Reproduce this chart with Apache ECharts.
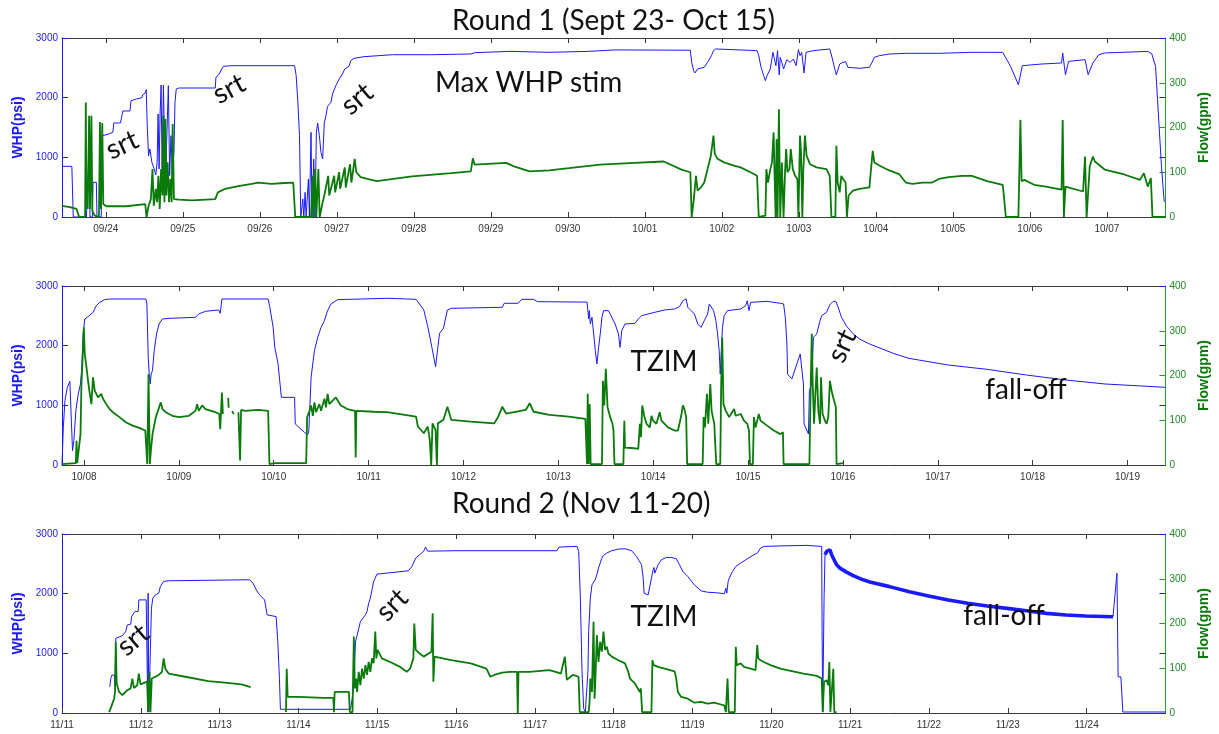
<!DOCTYPE html>
<html>
<head>
<meta charset="utf-8">
<script src="https://cdn.jsdelivr.net/npm/echarts@6/dist/echarts.min.js"></script>
<style>
  html, body { margin: 0; padding: 0; background: #ffffff; }
  #chart { width: 1219px; height: 734px; }
</style>
</head>
<body>
<div id="chart"></div>
<script>
// Time is a day index: Round 1 counts Sept 1 = 1 (so Oct 1 = 31),
// Round 2 counts Nov 1 = 1. WHP in psi, flow in gpm.

// ---- Round 1, first panel (Sept 23 - Oct 7) ----
const whp1 = [[23.431,849],[23.559,849],[23.577,0],[23.748,0],[23.770,693],[23.783,1084],[23.795,0],[23.825,0],[23.834,581],[23.877,581],[23.885,0],[23.941,0],[23.954,1363],[24.027,1386],[24.091,1419],[24.104,1576],[24.19,1576],[24.203,1654],[24.22,1777],[24.314,1777],[24.327,1950],[24.4,1978],[24.469,2000],[24.477,2045],[24.512,2078],[24.525,2134],[24.538,1531],[24.555,1028],[24.572,1140],[24.598,916],[24.628,805],[24.649,704],[24.666,916],[24.679,1726],[24.692,805],[24.705,1743],[24.718,2212],[24.731,805],[24.748,2212],[24.761,1363],[24.778,749],[24.799,1643],[24.812,2201],[24.829,693],[24.846,1363],[24.864,749],[24.885,1084],[24.898,1922],[24.915,2145],[24.949,2162],[25.421,2162],[25.43,2341],[25.464,2380],[25.507,2481],[25.528,2525],[25.636,2536],[26.451,2536],[26.472,2369],[26.494,1922],[26.515,1363],[26.532,0],[26.558,302],[26.571,0],[26.588,413],[26.601,0],[26.631,637],[26.644,0],[26.665,1419],[26.678,0],[26.7,972],[26.717,0],[26.734,1419],[26.751,1576],[26.773,1363],[26.794,1084],[26.816,972],[26.837,1576],[26.858,1698],[26.88,1855],[26.923,1922],[26.944,2062],[26.987,2201],[27.03,2313],[27.073,2397],[27.103,2481],[27.159,2525],[27.18,2620],[27.223,2659],[27.352,2687],[27.722,2720],[28.232,2720],[28.74,2732],[28.79,2754],[29.248,2776],[29.758,2760],[30.266,2776],[30.5,2792],[30.612,2800],[31.59,2795],[31.608,2592],[31.634,2453],[31.651,2414],[31.685,2481],[31.771,2509],[31.814,2592],[31.865,2704],[31.891,2788],[31.921,2816],[32.457,2788],[32.479,2704],[32.509,2509],[32.543,2369],[32.565,2285],[32.586,2369],[32.629,2481],[32.663,2760],[32.685,2788],[32.702,2536],[32.723,2788],[32.745,2380],[32.758,2676],[32.779,2592],[32.801,2481],[32.844,2637],[32.886,2592],[32.929,2648],[32.964,2536],[32.994,2805],[33.015,2704],[33.037,2760],[33.067,2414],[33.093,2760],[33.187,2788],[33.401,2816],[33.436,2648],[33.466,2481],[33.487,2380],[33.53,2564],[33.573,2592],[33.607,2604],[33.637,2509],[33.787,2492],[33.916,2509],[33.95,2592],[33.98,2676],[34.045,2704],[34.174,2732],[34.388,2743],[34.817,2743],[35.246,2760],[35.648,2759],[35.749,2525],[35.851,2217],[35.902,2536],[36.157,2564],[36.411,2581],[36.426,2749],[36.442,2581],[36.462,2385],[36.503,2608],[36.716,2637],[36.757,2385],[36.818,2581],[36.895,2720],[36.971,2749],[37.531,2776],[37.582,2737],[37.632,2525],[37.658,1966],[37.683,1408],[37.709,848],[37.744,262],[37.76,240]];

const flow1 = [[23.431,25],[23.534,22],[23.62,18],[23.645,14],[23.654,0],[23.731,0],[23.74,256],[23.748,33],[23.765,18],[23.783,226],[23.795,18],[23.813,226],[23.825,14],[23.855,3],[23.911,0],[23.924,212],[23.937,18],[23.954,210],[23.967,29],[24.006,24],[24.263,24],[24.512,29],[24.529,0],[24.555,25],[24.585,40],[24.606,107],[24.623,25],[24.649,63],[24.666,33],[24.683,92],[24.7,18],[24.718,107],[24.735,48],[24.748,226],[24.761,33],[24.774,219],[24.786,48],[24.803,122],[24.821,33],[24.838,85],[24.855,33],[24.868,208],[24.885,40],[24.949,39],[25.121,37],[25.421,40],[25.455,55],[25.55,63],[25.721,69],[25.893,74],[25.979,77],[26.151,74],[26.322,76],[26.434,77],[26.46,0],[26.665,0],[26.687,92],[26.7,0],[26.717,107],[26.734,0],[26.76,107],[26.777,0],[26.816,33],[26.837,48],[26.888,92],[26.901,48],[26.966,92],[26.978,55],[27.03,100],[27.043,63],[27.103,111],[27.116,66],[27.172,118],[27.189,77],[27.232,130],[27.253,100],[27.309,89],[27.395,85],[27.519,80],[27.977,91],[28.485,98],[28.74,102],[28.766,131],[28.79,117],[29.198,121],[29.3,113],[29.503,102],[29.758,104],[30.013,109],[30.42,117],[30.864,121],[31.246,124],[31.475,106],[31.591,100],[31.608,0],[31.625,0],[31.634,37],[31.651,40],[31.664,92],[31.685,59],[31.728,66],[31.771,77],[31.814,107],[31.857,137],[31.891,182],[31.908,141],[31.943,130],[32.028,122],[32.157,115],[32.243,111],[32.372,100],[32.457,92],[32.479,0],[32.565,3],[32.578,107],[32.599,77],[32.629,107],[32.651,122],[32.672,189],[32.685,92],[32.698,0],[32.711,174],[32.723,0],[32.741,241],[32.758,0],[32.779,122],[32.801,0],[32.822,107],[32.835,152],[32.852,100],[32.878,107],[32.895,152],[32.921,107],[32.951,92],[32.981,85],[32.994,0],[33.015,182],[33.028,145],[33.045,0],[33.058,107],[33.079,182],[33.1,137],[33.144,118],[33.23,111],[33.358,107],[33.401,92],[33.423,0],[33.474,0],[33.487,159],[33.504,77],[33.53,55],[33.551,92],[33.573,85],[33.607,77],[33.624,0],[33.646,48],[33.702,59],[33.787,63],[33.916,66],[33.937,107],[33.959,148],[33.98,122],[34.002,126],[34.045,115],[34.174,104],[34.302,96],[34.388,77],[34.474,74],[34.603,77],[34.731,77],[34.817,85],[34.946,89],[35.117,92],[35.246,92],[35.444,80],[35.648,72],[35.688,0],[35.851,0],[35.877,217],[35.892,80],[35.927,83],[36.055,72],[36.207,68],[36.411,61],[36.426,217],[36.442,0],[36.462,68],[36.691,57],[36.716,135],[36.737,0],[36.777,113],[36.818,135],[36.844,124],[36.971,106],[37.225,95],[37.429,83],[37.48,98],[37.531,68],[37.571,87],[37.592,0],[37.76,0]];

// ---- Round 1, second panel (Oct 8 - Oct 19) ----
const whp2 = [[37.768,0],[37.782,631],[37.799,1078],[37.824,1302],[37.851,1402],[37.869,1413],[37.879,240],[37.893,408],[37.914,911],[37.939,1190],[37.963,1358],[37.977,1637],[37.991,2196],[38.008,2447],[38.043,2486],[38.095,2559],[38.13,2671],[38.165,2726],[38.217,2771],[38.27,2782],[38.653,2782],[38.663,2698],[38.677,1805],[38.687,1525],[38.698,1358],[38.708,1525],[38.722,1581],[38.74,1916],[38.764,2196],[38.792,2363],[38.827,2447],[38.896,2458],[39.175,2475],[39.21,2531],[39.28,2576],[39.419,2598],[39.436,2542],[39.454,2782],[39.941,2782],[39.959,2643],[39.994,2307],[40.011,1972],[40.046,1693],[40.063,1413],[40.081,1134],[40.22,1134],[40.227,687],[40.324,548],[40.359,508],[40.37,575],[40.394,1469],[40.429,1916],[40.464,2140],[40.499,2307],[40.534,2419],[40.568,2587],[40.603,2698],[40.673,2771],[41.195,2794],[41.5,2777],[41.582,2598],[41.624,2318],[41.666,1983],[41.706,1648],[41.748,2207],[41.789,2291],[41.831,2598],[41.871,2626],[42.409,2643],[42.43,2710],[42.575,2710],[42.615,2777],[42.74,2777],[42.78,2738],[43.303,2730],[43.32,2447],[43.327,2587],[43.338,2363],[43.355,2475],[43.373,2196],[43.39,1916],[43.407,1693],[43.425,1972],[43.442,2196],[43.46,2475],[43.477,2587],[43.494,2615],[43.529,2587],[43.564,2475],[43.599,2363],[43.634,2196],[43.651,1972],[43.669,2252],[43.703,2363],[43.721,2374],[43.808,2374],[43.843,2447],[43.878,2503],[44.017,2559],[44.121,2598],[44.226,2615],[44.278,2654],[44.313,2754],[44.348,2782],[44.365,2643],[44.4,2587],[44.435,2531],[44.47,2363],[44.505,2307],[44.539,2419],[44.574,2531],[44.592,2698],[44.609,2710],[44.637,2587],[44.661,2419],[44.679,2196],[44.696,1916],[44.707,1525],[44.721,2028],[44.731,2307],[44.748,2503],[44.783,2587],[44.923,2615],[44.975,2671],[44.992,2754],[45.01,2587],[45.027,2726],[45.201,2743],[45.341,2710],[45.375,2698],[45.393,2475],[45.41,2028],[45.417,1525],[45.462,1441],[45.497,1609],[45.55,1860],[45.567,1872],[45.584,1358],[45.591,687],[45.637,520],[45.647,1246],[45.671,1358],[45.689,2140],[45.724,2196],[45.759,2419],[45.776,2503],[45.828,2559],[45.863,2687],[45.898,2743],[45.926,2743],[45.95,2643],[45.985,2475],[46.037,2330],[46.107,2200],[46.176,2110],[46.282,2028],[46.53,1872],[46.695,1788],[47.109,1676],[47.521,1603],[47.935,1508],[48.348,1425],[48.761,1358],[49.4,1302]];

const flow2 = [[37.768,2],[37.914,4],[37.921,54],[37.928,4],[37.949,4],[37.963,69],[37.973,181],[37.984,233],[37.998,308],[38.008,248],[38.026,218],[38.043,188],[38.061,159],[38.078,136],[38.095,196],[38.113,166],[38.148,151],[38.182,159],[38.2,148],[38.235,136],[38.27,125],[38.304,118],[38.374,107],[38.444,95],[38.513,88],[38.583,83],[38.646,77],[38.667,2],[38.68,203],[38.694,2],[38.705,32],[38.722,69],[38.757,107],[38.792,129],[38.809,140],[38.827,125],[38.861,118],[38.931,110],[39.001,107],[39.105,110],[39.175,121],[39.193,136],[39.21,121],[39.245,133],[39.28,125],[39.384,118],[39.426,114],[39.436,80],[39.454,162],[39.464,114],[39.47,'-'],[39.52,150],[39.525,128],[39.53,'-'],[39.56,120],[39.58,114],[39.59,'-'],[39.628,118],[39.645,10],[39.656,123],[39.698,121],[39.837,123],[39.941,121],[39.955,2],[40.011,4],[40.342,4],[40.352,107],[40.377,121],[40.394,133],[40.412,110],[40.429,140],[40.446,118],[40.481,136],[40.499,121],[40.534,148],[40.551,129],[40.568,159],[40.586,136],[40.621,144],[40.655,151],[40.707,133],[40.777,125],[40.857,121],[40.864,17],[40.871,121],[41.056,119],[41.195,118],[41.5,108],[41.52,86],[41.582,71],[41.624,86],[41.645,56],[41.66,0],[41.674,93],[41.706,78],[41.72,0],[41.73,93],[41.789,101],[41.831,130],[41.871,101],[42.077,97],[42.325,93],[42.367,108],[42.409,130],[42.45,115],[42.657,123],[42.698,138],[42.74,119],[42.905,112],[43.111,108],[43.285,103],[43.303,2],[43.31,159],[43.32,2],[43.331,136],[43.341,2],[43.46,2],[43.47,188],[43.484,133],[43.501,215],[43.519,129],[43.547,107],[43.571,92],[43.582,77],[43.592,2],[43.686,2],[43.696,99],[43.703,39],[43.773,38],[43.843,36],[43.86,92],[43.871,62],[43.885,133],[43.905,110],[43.93,92],[43.965,84],[43.982,110],[44.0,99],[44.034,92],[44.069,118],[44.087,99],[44.156,84],[44.226,77],[44.261,77],[44.296,110],[44.313,133],[44.33,125],[44.348,107],[44.358,2],[44.522,2],[44.532,107],[44.546,84],[44.567,159],[44.581,92],[44.602,181],[44.616,121],[44.644,92],[44.665,2],[44.707,2],[44.717,181],[44.728,285],[44.741,136],[44.766,121],[44.801,107],[44.853,125],[44.87,110],[44.923,114],[44.957,99],[44.992,92],[45.01,77],[45.02,2],[45.051,2],[45.062,107],[45.079,84],[45.114,114],[45.132,99],[45.201,88],[45.271,77],[45.341,69],[45.368,73],[45.375,2],[45.647,2],[45.661,181],[45.672,293],[45.682,181],[45.696,92],[45.71,159],[45.724,218],[45.741,121],[45.759,92],[45.769,196],[45.786,114],[45.811,99],[45.828,92],[45.846,107],[45.863,188],[45.881,166],[45.898,151],[45.926,129],[45.933,2],[46.002,4]];

// ---- Round 2 (Nov 11 - Nov 25) ----
const whp3 = [[11.606,438],[11.619,578],[11.631,634],[11.665,634],[11.673,438],[11.682,1251],[11.703,1279],[11.766,1296],[11.808,1363],[11.829,1475],[11.871,1487],[11.883,1616],[11.925,1700],[11.967,1700],[11.975,1896],[12.068,1896],[12.08,1868],[12.089,17],[12.093,2008],[12.101,17],[12.126,17],[12.135,1756],[12.152,1924],[12.185,1980],[12.227,2008],[12.248,2121],[12.29,2205],[12.353,2216],[13.381,2233],[13.423,2177],[13.465,2064],[13.507,1980],[13.57,1896],[13.591,1868],[13.603,1644],[13.717,1616],[13.738,1195],[13.759,578],[13.771,62],[14.661,62],[14.682,241],[14.703,522],[14.724,1195],[14.766,1419],[14.786,1532],[14.849,1644],[14.87,1700],[14.891,1840],[14.912,1924],[14.933,2064],[14.954,2205],[14.996,2328],[15.248,2362],[15.395,2384],[15.44,2456],[15.488,2597],[15.588,2709],[15.613,2781],[15.64,2712],[16.0,2720],[17.28,2720],[17.306,2781],[17.535,2792],[17.556,2708],[17.577,1923],[17.598,690],[17.619,73],[17.64,17],[17.661,17],[17.673,690],[17.682,1363],[17.703,1923],[17.724,2147],[17.765,2232],[17.786,2316],[17.807,2428],[17.828,2512],[17.849,2596],[17.87,2641],[17.912,2680],[17.975,2720],[18.059,2747],[18.143,2753],[18.227,2720],[18.29,2624],[18.353,2484],[18.374,2260],[18.386,2007],[18.437,1979],[18.458,2007],[18.479,2260],[18.5,2400],[18.512,2439],[18.521,2344],[18.563,2484],[18.605,2568],[18.667,2607],[18.73,2607],[18.793,2585],[18.835,2484],[18.877,2372],[18.94,2288],[19.024,2147],[19.108,2047],[19.192,2024],[19.276,2018],[19.36,2007],[19.402,1996],[19.423,2091],[19.435,2007],[19.452,2204],[19.465,2260],[19.507,2372],[19.549,2456],[19.611,2512],[19.695,2585],[19.779,2652],[19.821,2680],[19.863,2764],[19.905,2792],[20.199,2803],[20.451,2809],[20.639,2792],[20.644,1363],[20.652,17],[20.669,1923],[20.681,2652]];

const whp3FallOff = [[20.681,2652],[20.702,2708],[20.723,2697],[20.744,2736],[20.765,2652],[20.807,2540],[20.828,2484],[20.87,2428],[20.954,2361],[21.038,2304],[21.164,2232],[21.25,2195],[21.5,2118],[21.75,2034],[21.995,1961],[22.245,1894],[22.49,1838],[22.74,1793],[22.99,1754],[23.24,1715],[23.49,1670],[23.74,1642],[23.99,1625],[24.335,1614]];

const whp3ShutIn = [[24.335,1614],[24.385,2343],[24.40,606],[24.435,606],[24.46,17],[25,17]];

const flow3 = [[11.598,2],[11.631,17],[11.661,32],[11.673,47],[11.682,159],[11.694,66],[11.724,47],[11.766,40],[11.829,51],[11.871,55],[11.892,77],[11.913,56],[11.954,62],[11.975,88],[11.996,64],[12.08,70],[12.093,2],[12.11,92],[12.122,2],[12.139,77],[12.227,85],[12.269,92],[12.29,122],[12.311,99],[12.353,88],[12.563,81],[12.856,71],[13.066,68],[13.276,64],[13.394,58],[13.6,'-'],[13.842,2],[13.851,99],[13.863,36],[13.989,36],[14.325,34],[14.442,34],[14.451,2],[14.459,47],[14.64,47],[14.652,2],[14.686,2],[14.703,171],[14.715,55],[14.732,77],[14.744,47],[14.765,92],[14.786,62],[14.807,99],[14.829,77],[14.85,107],[14.87,85],[14.891,114],[14.912,92],[14.933,122],[14.954,111],[14.975,182],[14.988,122],[15.005,141],[15.059,122],[15.164,114],[15.29,103],[15.374,92],[15.416,99],[15.458,122],[15.47,200],[15.488,141],[15.539,133],[15.588,126],[15.688,137],[15.703,223],[15.712,70],[15.727,126],[15.936,118],[16.186,111],[16.385,99],[16.435,81],[16.484,85],[16.584,90],[16.683,92],[16.773,92],[16.783,0],[16.792,92],[16.932,92],[17.181,96],[17.262,92],[17.33,88],[17.38,126],[17.405,74],[17.48,85],[17.554,81],[17.569,2],[17.682,2],[17.694,25],[17.703,77],[17.724,47],[17.744,204],[17.757,32],[17.765,62],[17.786,174],[17.807,114],[17.828,159],[17.849,137],[17.87,182],[17.891,141],[17.912,148],[17.933,133],[17.975,126],[18.059,118],[18.143,111],[18.185,92],[18.206,77],[18.227,81],[18.269,66],[18.332,47],[18.344,55],[18.361,2],[18.479,2],[18.491,118],[18.508,107],[18.563,103],[18.646,99],[18.772,93],[18.793,77],[18.814,47],[18.856,36],[18.94,32],[19.024,23],[19.108,25],[19.192,21],[19.276,23],[19.36,19],[19.402,17],[19.423,2],[19.444,77],[19.46,2],[19.536,2],[19.549,148],[19.561,107],[19.611,111],[19.653,103],[19.737,99],[19.8,96],[19.821,152],[19.834,122],[19.863,118],[19.905,114],[19.989,107],[20.115,99],[20.199,96],[20.409,88],[20.576,83],[20.639,77],[20.652,2],[20.669,70],[20.702,73],[20.723,62],[20.736,114],[20.749,2],[20.774,2],[20.786,99],[20.799,2],[20.828,2]];

// Day ticks for each panel (day index, same convention as the data)
const ticks1 = [24,25,26,27,28,29,30,31,32,33,34,35,36,37];
const ticks2 = [38,39,40,41,42,43,44,45,46,47,48,49];
const ticks3 = [11,12,13,14,15,16,17,18,19,20,21,22,23,24];
const whpTicks = [0, 1000, 2000, 3000];
const flowTicks = [0, 100, 200, 300, 400];

const BLUE = '#1a1aff';
const GREEN = '#0a7a0a';
const FRAME = '#3a3a3a';
const TICK_FONT = 'Liberation Sans';
const NOTE_FONT = '28px Lato';

const pad2 = n => (n < 10 ? '0' : '') + n;
// Round 1 day index → MM/dd (Sept has 30 days)
const labelRound1 = d => d <= 30 ? '09/' + pad2(d) : '10/' + pad2(d - 30);
const labelRound2 = d => '11/' + pad2(d);

const panels = [
  { top: 38,  min: 23.431, max: 37.76, ticks: ticks1, fmt: labelRound1 },
  { top: 286, min: 37.768, max: 49.40, ticks: ticks2, fmt: labelRound1 },
  { top: 534, min: 11,     max: 25,    ticks: ticks3, fmt: labelRound2 }
];

const grids = [], xAxes = [], yAxes = [];
panels.forEach(p => {
  grids.push({ left: 62, right: 44, top: p.top, height: 179, containLabel: false });
  const gi = grids.length - 1;
  // bottom axis with date labels
  xAxes.push({
    type: 'value', gridIndex: gi, position: 'bottom', min: p.min, max: p.max,
    axisLine: { show: true, onZero: false, lineStyle: { color: FRAME, width: 1 } },
    axisTick: { show: true, inside: true, length: 5, customValues: p.ticks, lineStyle: { color: FRAME } },
    axisLabel: { show: true, customValues: p.ticks, margin: 7, color: '#333', fontSize: 10,
      fontFamily: TICK_FONT, formatter: v => p.fmt(Math.round(v)) },
    splitLine: { show: false }
  });
  // top frame with mirrored ticks
  xAxes.push({
    type: 'value', gridIndex: gi, position: 'top', min: p.min, max: p.max,
    axisLine: { show: true, onZero: false, lineStyle: { color: FRAME, width: 1 } },
    axisTick: { show: true, inside: true, length: 5, customValues: p.ticks, lineStyle: { color: FRAME } },
    axisLabel: { show: false }, splitLine: { show: false }
  });
  yAxes.push({
    type: 'value', gridIndex: gi, position: 'left', min: 0, max: 3000, interval: 1000,
    name: 'WHP(psi)', nameLocation: 'middle', nameRotate: 90, nameGap: 33,
    nameTextStyle: { color: BLUE, fontSize: 14, fontWeight: 'bold', fontFamily: TICK_FONT },
    axisLine: { show: true, onZero: false, lineStyle: { color: BLUE, width: 1 } },
    axisTick: { show: true, inside: true, length: 6, customValues: whpTicks, lineStyle: { color: BLUE } },
    axisLabel: { color: BLUE, fontSize: 10, fontFamily: TICK_FONT, margin: 4, formatter: v => String(v) },
    splitLine: { show: false }
  });
  yAxes.push({
    type: 'value', gridIndex: gi, position: 'right', min: 0, max: 400, interval: 100,
    name: 'Flow(gpm)', nameLocation: 'middle', nameRotate: 90, nameGap: 26,
    nameTextStyle: { color: GREEN, fontSize: 14, fontWeight: 'bold', fontFamily: TICK_FONT },
    axisLine: { show: true, onZero: false, lineStyle: { color: '#2e9a2e', width: 1 } },
    axisTick: { show: true, inside: true, length: 6, customValues: flowTicks, lineStyle: { color: '#2e9a2e' } },
    axisLabel: { color: '#1e8a1e', fontSize: 10, fontFamily: TICK_FONT, margin: 4, formatter: v => String(v) },
    splitLine: { show: false }
  });
  // WHP tick marks repeated on the right edge of the box
  yAxes.push({
    type: 'value', gridIndex: gi, position: 'right', min: 0, max: 3000, interval: 1000,
    axisLine: { show: false },
    axisTick: { show: true, inside: true, length: 6, customValues: whpTicks, lineStyle: { color: BLUE } },
    axisLabel: { show: false }, splitLine: { show: false }
  });
});

function line(data, gi, axis, color, width, z) {
  return {
    type: 'line', xAxisIndex: gi * 2, yAxisIndex: gi * 3 + axis, data: data,
    showSymbol: false, symbol: 'none', silent: true, z: z,
    lineStyle: { color: color, width: width }, connectNulls: false
  };
}

const series = [
  line(whp1, 0, 0, BLUE, 1, 2),
  line(flow1, 0, 1, GREEN, 1.8, 3),
  line(whp2, 1, 0, BLUE, 1, 2),
  line(flow2, 1, 1, GREEN, 1.8, 3),
  line(whp3, 2, 0, BLUE, 1, 2),
  line(whp3FallOff, 2, 0, BLUE, 3.6, 2),
  line(whp3ShutIn, 2, 0, BLUE, 1, 2),
  line(flow3, 2, 1, GREEN, 1.8, 3)
];

function note(text, x, y, deg, align) {
  return {
    type: 'text', x: x, y: y, rotation: (deg || 0) * Math.PI / 180, z: 100,
    style: { text: text, x: 0, y: 0, font: NOTE_FONT, fill: '#111',
      textAlign: align || 'center', textVerticalAlign: 'middle' }
  };
}

const graphic = [
  note('Round 1 (Sept 23- Oct 15)', 452, 21, 0, 'left'),
  note('Round 2 (Nov 11-20)', 452, 504, 0, 'left'),
  note('Max WHP stim', 435, 83, 0, 'left'),
  note('srt', 122, 145, 25),
  note('srt', 229, 89, 28),
  note('srt', 357, 99, 40),
  note('TZIM', 664, 362),
  note('srt', 842, 346, 65),
  note('fall-off', 1026, 390),
  note('srt', 133, 640, 40),
  note('srt', 392, 605, 45),
  note('TZIM', 664, 617),
  note('fall-off', 1004, 616)
];

const chart = echarts.init(document.getElementById('chart'), null, { renderer: 'canvas' });
chart.setOption({
  backgroundColor: '#ffffff',
  animation: false,
  grid: grids,
  xAxis: xAxes,
  yAxis: yAxes,
  series: series,
  graphic: graphic
});
</script>
</body>
</html>
